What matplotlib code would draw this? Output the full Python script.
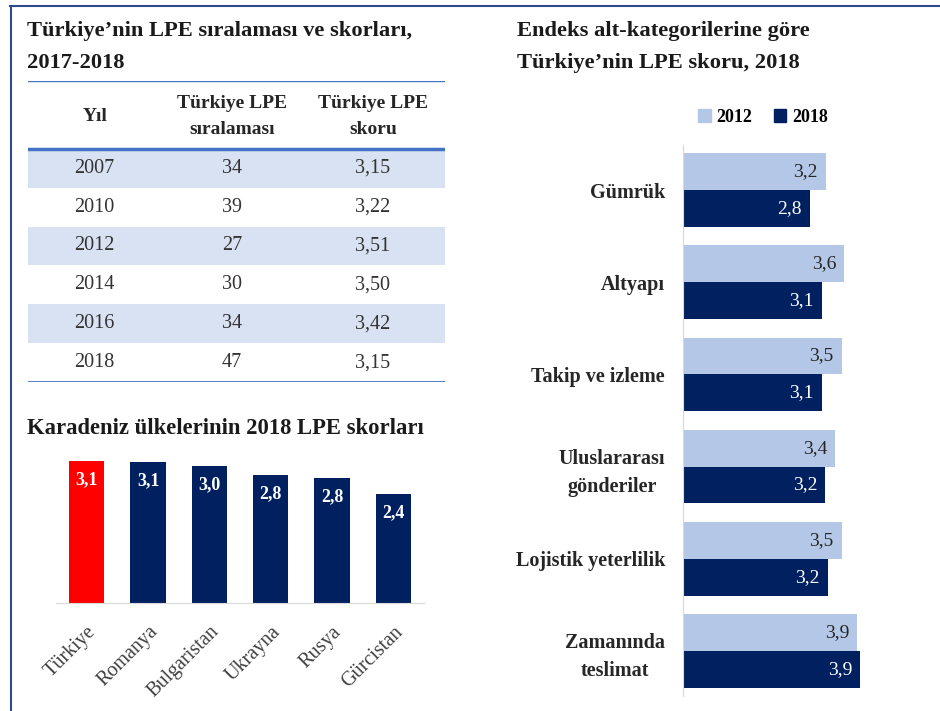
import numpy as np
import matplotlib
matplotlib.use("Agg")
import matplotlib.pyplot as plt
from matplotlib.lines import Line2D
from matplotlib.patches import Patch

plt.rcParams["font.family"] = ["Liberation Serif", "DejaVu Serif"]

# --- data -------------------------------------------------------------
table_header = ["Yıl", "Türkiye LPE\nsıralaması", "Türkiye LPE\nskoru"]
table_years = ["2007", "2010", "2012", "2014", "2016", "2018"]
table_ranks = ["34", "39", "27", "30", "34", "47"]
table_scores = ["3,15", "3,22", "3,51", "3,50", "3,42", "3,15"]

countries = ["Türkiye", "Romanya", "Bulgaristan", "Ukrayna", "Rusya", "Gürcistan"]
country_scores = [3.14, 3.12, 3.03, 2.84, 2.77, 2.42]

categories = ["Gümrük", "Altyapı", "Takip ve izleme", "Uluslararası\ngönderiler",
              "Lojistik yeterlilik", "Zamanında\nteslimat"]
scores_2012 = [3.18, 3.58, 3.53, 3.38, 3.53, 3.87]
scores_2018 = [2.82, 3.09, 3.09, 3.16, 3.22, 3.94]

NAVY = "#002060"
LIGHT = "#B4C7E7"
RED = "#FF0000"
RULE = "#4472C4"
SHADE = "#D9E2F3"
TITLE_C = "#1a1a1a"
W, H = 940, 711


def fx(px):
    return px / W


def fy(py):
    return 1 - py / H


fig = plt.figure(figsize=(9.4, 7.11), dpi=100)

# outer frame
fig.add_artist(Line2D([fx(10), 1], [fy(6), fy(6)], color="#2E4A8A", lw=1.5))
fig.add_artist(Line2D([fx(11), fx(11)], [fy(6), 0], color="#2E4A8A", lw=1.5))

# --- table ------------------------------------------------------------
fig.text(fx(27), fy(47), "Türkiye’nin LPE sıralaması ve skorları,\n2017-2018",
         fontsize=16.2, fontweight="bold", color=TITLE_C, ha="left", va="center",
         linespacing=1.75)

tab = fig.add_axes([fx(28), fy(382), fx(445) - fx(28), fy(81) - fy(382)])
hdr = 68 / 39
n = len(table_years)
tab.set_xlim(0, 1)
tab.set_ylim(n + hdr, 0)
tab.axis("off")
col_x = [0.16, 0.489, 0.827]
for i in range(n):
    if i % 2 == 0:
        tab.axhspan(hdr + i, hdr + i + 1, color=SHADE, lw=0)
    y = hdr + i + 0.5
    for cx, val in zip(col_x, [table_years[i], table_ranks[i], table_scores[i]]):
        tab.text(cx, y, val, ha="center", va="center", fontsize=14.5, color="#333333")
for cx, h in zip(col_x, table_header):
    tab.text(cx, hdr / 2 + 0.05, h, ha="center", va="center", fontsize=14,
             fontweight="bold", color="#262626", linespacing=1.7)
tab.axhline(0, color=RULE, lw=1.0)
tab.axhline(hdr, color=RULE, lw=2.5)
tab.axhline(n + hdr, color=RULE, lw=2.0)

# --- Karadeniz bars ---------------------------------------------------
fig.text(fx(27), fy(428), "Karadeniz ülkelerinin 2018 LPE skorları",
         fontsize=16.3, fontweight="bold", color=TITLE_C, ha="left", va="center")

ax1 = fig.add_axes([fx(56), fy(603), fx(424) - fx(56), fy(445) - fy(603)])
x = np.arange(len(countries))
colors = [RED] + [NAVY] * (len(countries) - 1)
bars = ax1.bar(x, country_scores, width=0.58, color=colors)
ax1.set_xlim(-0.5, len(countries) - 0.5)
ax1.set_ylim(0, 3.5)
for b, v in zip(bars, country_scores):
    ax1.text(b.get_x() + b.get_width() / 2, v - 0.42, f"{v:.1f}".replace(".", ","),
             ha="center", va="center", color="white", fontsize=13, fontweight="bold")
for s in ["top", "right", "left"]:
    ax1.spines[s].set_visible(False)
ax1.spines["bottom"].set_color("#D9D9D9")
ax1.set_yticks([])
ax1.set_xticks(x)
ax1.set_xticklabels(countries, rotation=45, ha="right", rotation_mode="anchor",
                    fontsize=14.5, color="#404040")
ax1.tick_params(axis="x", length=0, pad=14)

# --- sub-category bars ------------------------------------------------
fig.text(fx(517), fy(47), "Endeks alt-kategorilerine göre\nTürkiye’nin LPE skoru, 2018",
         fontsize=16.2, fontweight="bold", color=TITLE_C, ha="left", va="center",
         linespacing=1.75)

ax2 = fig.add_axes([fx(683), fy(696), fx(908) - fx(683), fy(145) - fy(696)])
y = np.arange(len(categories))
h = 0.4
ax2.barh(y - h / 2, scores_2012, height=h, color=LIGHT, label="2012")
ax2.barh(y + h / 2, scores_2018, height=h, color=NAVY, label="2018")
ax2.set_xlim(0, 5)
ax2.set_ylim(len(categories) - 0.51, -0.49)
for yy, v in zip(y, scores_2012):
    ax2.text(v - 0.18, yy - h / 2, f"{v:.1f}".replace(".", ","), ha="right",
             va="center", fontsize=14, color="#262626")
for yy, v in zip(y, scores_2018):
    ax2.text(v - 0.18, yy + h / 2, f"{v:.1f}".replace(".", ","), ha="right",
             va="center", fontsize=14, color="white")
for s in ["top", "right", "bottom"]:
    ax2.spines[s].set_visible(False)
ax2.spines["left"].set_color("#D9D9D9")
ax2.set_xticks([])
ax2.set_yticks(y)
ax2.set_yticklabels(categories, fontsize=14.5, fontweight="bold", color="#262626",
                    multialignment="center", linespacing=1.5)
ax2.tick_params(axis="y", length=0, pad=13)

fig.legend(handles=[Patch(color=LIGHT, label="2012"), Patch(color=NAVY, label="2018")],
           loc="center", bbox_to_anchor=(fx(763), fy(117)), ncol=2, frameon=False,
           handlelength=0.7, handleheight=0.7, handletextpad=0.3, columnspacing=1.2,
           prop={"size": 13, "weight": "bold"})

fig.savefig("out.png", dpi=100)
